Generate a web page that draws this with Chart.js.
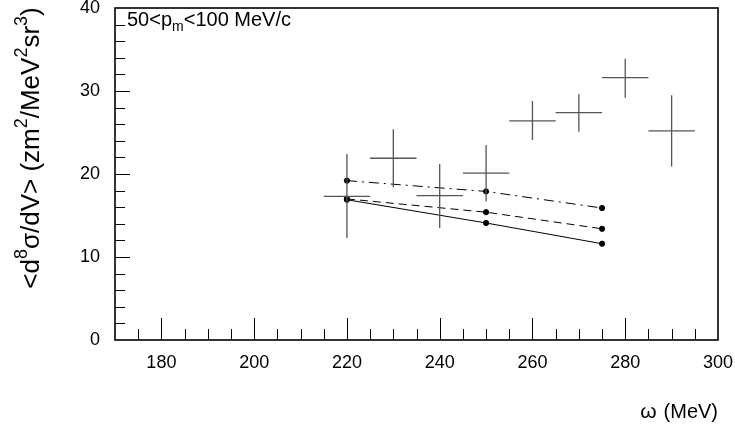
<!DOCTYPE html>
<html>
<head>
<meta charset="utf-8">
<script src="https://cdn.jsdelivr.net/npm/chart.js@4"></script>
<style>
  html, body { margin: 0; padding: 0; background: #fff; }
  #wrap { width: 735px; height: 428px; }
</style>
</head>
<body>
<div id="wrap"><canvas id="chart" width="735" height="428"></canvas></div>
<script>
// measured points with error crosses
const omega     = [220, 230, 240, 250, 260, 270, 280, 290];
const sigma     = [17.3, 21.9, 17.4, 20.1, 26.4, 27.4, 31.6, 25.2];
const sigmaLow  = [12.3, 18.4, 13.5, 16.7, 24.1, 25.1, 29.2, 20.9];
const sigmaHigh = [22.4, 25.4, 21.2, 23.5, 28.8, 29.6, 33.9, 29.5];
const omegaHalfWidth = 5;

// calculations
const calcOmega   = [220, 250, 275];
const calcSolid   = [16.9, 14.1, 11.6];
const calcDashed  = [17.0, 15.4, 13.4];
const calcDashDot = [19.2, 17.9, 15.9];

const xTicks = [180, 200, 220, 240, 260, 280, 300];
const yTicks = [0, 10, 20, 30, 40];

const FONT = '"Liberation Sans", Arial, Helvetica, sans-serif';

// build segment lists separated by gaps
function horizontalBars() {
    const pts = [];
    omega.forEach((w, i) => {
        pts.push({ x: w - omegaHalfWidth, y: sigma[i] });
        pts.push({ x: w + omegaHalfWidth, y: sigma[i] });
        pts.push({ x: w + omegaHalfWidth, y: null });
    });
    return pts;
}
function verticalBars() {
    const pts = [];
    omega.forEach((w, i) => {
        pts.push({ x: w, y: sigmaLow[i] });
        pts.push({ x: w, y: sigmaHigh[i] });
        pts.push({ x: w, y: null });
    });
    return pts;
}
function curve(values) {
    return calcOmega.map((w, i) => ({ x: w, y: values[i] }));
}

// draw text pieces, some raised or lowered
function drawPieces(ctx, parts, x, y) {
    parts.forEach(p => {
        ctx.font = p.size + 'px ' + FONT;
        ctx.fillText(p.t, x, y + (p.dy || 0));
        x += ctx.measureText(p.t).width;
    });
}
function piecesWidth(ctx, parts) {
    let w = 0;
    parts.forEach(p => { ctx.font = p.size + 'px ' + FONT; w += ctx.measureText(p.t).width; });
    return w;
}

// frame, inward ticks and texts
const frameTicks = {
    id: 'frameTicks',
    afterDraw(chart) {
        const ctx = chart.ctx;
        const a = chart.chartArea;
        const xs = chart.scales.x, ys = chart.scales.y;
        ctx.save();
        ctx.strokeStyle = '#000';
        ctx.lineWidth = 1;
        ctx.beginPath();
        for (let v = 175; v < 300; v += 5) {
            const px = Math.round(xs.getPixelForValue(v)) + 0.5;
            const len = (v % 20 === 0) ? 22 : 11;
            ctx.moveTo(px, a.bottom);
            ctx.lineTo(px, a.bottom - len);
        }
        for (let v = 2; v < 40; v += 2) {
            const py = Math.round(ys.getPixelForValue(v)) + 0.5;
            const len = (v % 10 === 0) ? 15 : 10;
            ctx.moveTo(a.left, py);
            ctx.lineTo(a.left + len, py);
        }
        ctx.stroke();
        ctx.lineWidth = 1.6;
        ctx.strokeRect(a.left, a.top, a.right - a.left, a.bottom - a.top);

        ctx.fillStyle = '#000';
        ctx.textBaseline = 'alphabetic';
        ctx.textAlign = 'left';
        // in-frame label
        drawPieces(ctx, [
            { t: '50<p', size: 20 },
            { t: 'm', size: 14, dy: 5 },
            { t: '<100 MeV/c', size: 20 }
        ], a.left + 12, 26);

        // x title
        ctx.font = '20px ' + FONT;
        ctx.textAlign = 'right';
        ctx.fillText('(MeV)', a.right, 418);
        const w = ctx.measureText('(MeV)').width;
        ctx.font = '21px ' + FONT;
        ctx.fillText('\u03c9', a.right - w - 7, 418);

        // y title, rotated, with superscripts
        const parts = [
            { t: '<d', size: 26 }, { t: '8', size: 18, dy: -12 },
            { t: '\u03c3/dV> (zm', size: 26 }, { t: '2', size: 18, dy: -12 },
            { t: '/MeV', size: 26 }, { t: '2', size: 18, dy: -12 },
            { t: 'sr', size: 26 }, { t: '3', size: 18, dy: -12 },
            { t: ')', size: 26 }
        ];
        ctx.textAlign = 'left';
        const total = piecesWidth(ctx, parts);
        ctx.translate(39, 148);
        ctx.rotate(-Math.PI / 2);
        drawPieces(ctx, parts, -total / 2, 0);
        ctx.restore();
    }
};

const barStyle = { borderColor: '#555', borderWidth: 1.3, pointRadius: 0, showLine: true, spanGaps: false, fill: false };
const calcStyle = { borderColor: '#000', backgroundColor: '#000', borderWidth: 1, pointRadius: 2.6, pointHoverRadius: 2.6, showLine: true, fill: false, tension: 0 };

new Chart(document.getElementById('chart'), {
    type: 'scatter',
    data: {
        datasets: [
            Object.assign({ label: 'omega bins', data: horizontalBars() }, barStyle),
            Object.assign({ label: 'errors', data: verticalBars() }, barStyle),
            Object.assign({ label: 'calc 1', data: curve(calcSolid) }, calcStyle),
            Object.assign({ label: 'calc 2', data: curve(calcDashed), borderDash: [8, 5] }, calcStyle),
            Object.assign({ label: 'calc 3', data: curve(calcDashDot), borderDash: [10, 5, 2, 5] }, calcStyle)
        ]
    },
    options: {
        responsive: false,
        animation: false,
        events: [],
        layout: { padding: { left: 0, top: 8, right: 17, bottom: 0 } },
        plugins: { legend: { display: false }, tooltip: { enabled: false } },
        scales: {
            x: {
                type: 'linear', min: 170, max: 300,
                afterBuildTicks: s => { s.ticks = xTicks.map(v => ({ value: v })); },
                afterFit: s => { s.height = 88; s.paddingLeft = 0; s.paddingRight = 0; },
                grid: { display: false, drawTicks: false },
                border: { display: false },
                ticks: { color: '#000', font: { family: FONT, size: 18 }, padding: 12, maxRotation: 0 }
            },
            y: {
                type: 'linear', min: 0, max: 40,
                afterBuildTicks: s => { s.ticks = yTicks.map(v => ({ value: v })); },
                afterFit: s => { s.width = 115; s.paddingTop = 0; s.paddingBottom = 0; },
                grid: { display: false, drawTicks: false },
                border: { display: false },
                ticks: { color: '#000', font: { family: FONT, size: 18 }, padding: 15 }
            }
        }
    },
    plugins: [frameTicks]
});
</script>
</body>
</html>
